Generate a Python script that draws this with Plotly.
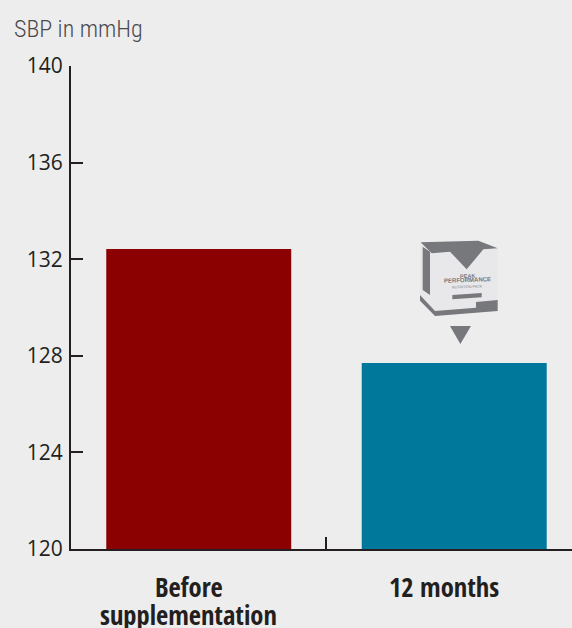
import plotly.graph_objects as go

categories = ["Before<br>supplementation", "12 months"]
sbp_values = [132.42, 127.7]
bar_colors = ["#8b0000", "#00789c"]
y_ticks = [120, 124, 128, 132, 136, 140]
axis_title = "SBP in mmHg"

W, H = 572, 628
L, T, B = 71, 66, 549
AX = "#231f20"
ICON = "#77787b"

fig = go.Figure(go.Bar(x=categories, y=sbp_values, marker=dict(color=bar_colors, line_width=0),
                       width=0.724, hoverinfo="skip"))

def px(x): return (x - L) / (W - L)
def py(y): return (B - y) / (B - T)

def poly(zoom_pts, color):
    pts = [(400 + a / 3, 230 + b / 3) for a, b in zoom_pts]
    path = "M " + " L ".join(f"{px(a):.5f} {py(b):.5f}" for a, b in pts) + " Z"
    return dict(type="path", xref="paper", yref="paper", path=path,
                fillcolor=color, line=dict(width=0), layer="above")

shapes = [
    poly([(60, 37), (235, 32), (293, 55), (293, 243), (105, 258), (60, 200)], "#e8e8ea"),
    poly([(62, 37), (235, 32), (293, 55), (250, 58), (200, 118), (150, 65), (95, 70)], ICON),
    poly([(68, 50), (90, 65), (90, 195), (68, 180)], ICON),
    poly([(60, 195), (105, 243), (228, 233), (228, 216), (293, 210), (293, 243), (105, 258), (60, 212)], ICON),
    poly([(157, 195), (245, 189), (245, 202), (157, 208)], ICON),
    poly([(150, 288), (213, 288), (181, 342)], ICON),
]

def note(text, x, y, size, color, family, anchor="center", angle=0, **font):
    return dict(text=text, xref="paper", yref="paper", x=px(x), y=py(y), xanchor=anchor, yanchor="middle",
                showarrow=False, font=dict(size=size, color=color, family=family, **font), textangle=angle)

annotations = [
    note(axis_title, 12, 29.5, 24, "#4a4a4c", "Roboto Condensed", "left", weight=300),
    note("<b>PEAK</b>", 467, 275.5, 5.5, ICON, "Liberation Sans", angle=-2),
    note("<b>PERFORMANCE</b>", 467, 280, 6, ICON, "Liberation Sans", angle=-2),
    note("NUTRITION PACK", 467, 286.5, 3.6, ICON, "Liberation Sans", angle=-2),
]
for cat in categories:
    for j, line in enumerate(cat.split("<br>")):
        annotations.append(dict(text=f"<b>{line}</b>", xref="x", yref="paper", x=cat, y=py(586.5 + j * 28),
                                xanchor="center", yanchor="middle", showarrow=False, xshift=-10,
                                font=dict(size=26.5, color=AX, family="Open Sans Condensed")))

fig.update_layout(
    width=W, height=H, paper_bgcolor="#ededed", plot_bgcolor="#ededed",
    margin=dict(l=L, r=0, t=T, b=H - B, pad=0, autoexpand=False),
    showlegend=False, shapes=shapes, annotations=annotations,
    font=dict(family="Open Sans", color=AX),
    xaxis=dict(type="category", range=[-0.5, 1.461], tickson="boundaries", ticks="inside", ticklen=12,
               tickwidth=2, tickcolor=AX, showline=True, linecolor=AX, linewidth=2, showgrid=False,
               showticklabels=False, fixedrange=True),
    yaxis=dict(range=[120, 140], tickvals=y_ticks, ticks="inside", ticklen=12, tickwidth=2, tickcolor=AX,
               showline=True, linecolor=AX, linewidth=2, showgrid=False, zeroline=False, ticklabelstandoff=2,
               tickfont=dict(family="Open Sans", size=21, color=AX), fixedrange=True),
)
fig.write_html("out.html", config={"displayModeBar": False},
               post_script="document.body.style.margin='0';document.documentElement.style.background='#ededed';")
